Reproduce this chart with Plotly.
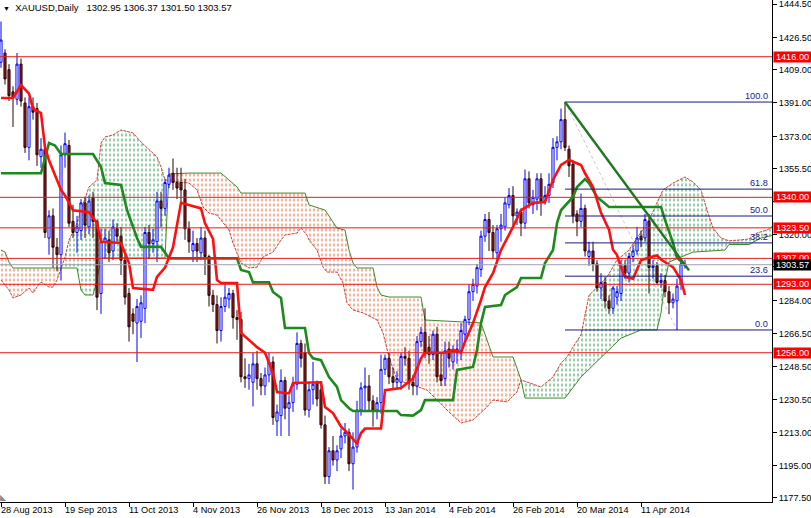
import plotly.graph_objects as go

FONT = "Liberation Sans, Arial, sans-serif"

# ---------------- data ----------------
date_idx = [0, 16, 32, 48, 64, 80, 96, 112, 128, 144, 160]
date_labels = ["28 Aug 2013", "19 Sep 2013", "11 Oct 2013", "4 Nov 2013", "26 Nov 2013",
               "18 Dec 2013", "13 Jan 2014", "4 Feb 2014", "26 Feb 2014", "20 Mar 2014", "11 Apr 2014"]

opens = [1413, 1418, 1409, 1397, 1393, 1412, 1391, 1367, 1389, 1388,
         1362, 1366, 1318, 1330, 1313, 1309, 1363, 1368, 1327, 1321,
         1322, 1337, 1324, 1340, 1327, 1288, 1316, 1317, 1311, 1323,
         1319, 1306, 1288, 1277, 1272, 1273, 1280, 1321, 1315, 1316,
         1338, 1334, 1347, 1353, 1348, 1348, 1344, 1323, 1311, 1315,
         1310, 1318, 1308, 1287, 1282, 1268, 1281, 1285, 1288, 1275,
         1274, 1243, 1242, 1240, 1250, 1242, 1238, 1244, 1251, 1219,
         1222, 1241, 1226, 1229, 1239, 1261, 1256, 1225, 1236, 1240,
         1236, 1217, 1189, 1203, 1198, 1204, 1211, 1213, 1196, 1205,
         1225, 1237, 1238, 1230, 1225, 1229, 1247, 1253, 1243, 1240,
         1240, 1254, 1253, 1240, 1238, 1262, 1267, 1259, 1255, 1266,
         1244, 1242, 1258, 1251, 1256, 1257, 1266, 1274, 1289, 1292,
         1301, 1319, 1328, 1321, 1310, 1323, 1324, 1336, 1341, 1330,
         1332, 1326, 1350, 1336, 1339, 1350, 1338, 1341, 1348, 1367,
         1370, 1382, 1366, 1358, 1331, 1327, 1334, 1308, 1311, 1304,
         1291, 1294, 1284, 1280, 1286, 1288, 1303, 1299, 1308, 1311,
         1319, 1318, 1327, 1302, 1303, 1294, 1295, 1289, 1283, 1284,
         1293, 1302.95]
highs = [1435, 1420, 1412, 1400, 1418, 1415, 1394, 1394, 1394, 1391,
         1372, 1369, 1333, 1334, 1318, 1368, 1375, 1371, 1336, 1330,
         1339, 1340, 1341, 1343, 1328, 1323, 1323, 1322, 1328, 1326,
         1324, 1309, 1291, 1280, 1285, 1287, 1324, 1325, 1323, 1343,
         1343, 1350, 1356, 1361, 1356, 1356, 1350, 1327, 1322, 1318,
         1324, 1322, 1309, 1290, 1287, 1286, 1293, 1291, 1290, 1279,
         1278, 1253, 1250, 1256, 1257, 1245, 1248, 1256, 1254, 1228,
         1247, 1243, 1233, 1243, 1267, 1263, 1261, 1240, 1251, 1241,
         1240, 1222, 1205, 1211, 1206, 1215, 1218, 1215, 1213, 1230,
         1240, 1248, 1244, 1233, 1232, 1255, 1255, 1256, 1248, 1246,
         1256, 1259, 1257, 1244, 1265, 1270, 1280, 1265, 1268, 1270,
         1256, 1262, 1262, 1260, 1263, 1272, 1276, 1293, 1296, 1304,
         1322, 1331, 1332, 1325, 1325, 1331, 1340, 1345, 1346, 1334,
         1334, 1355, 1354, 1344, 1353, 1353, 1346, 1353, 1372, 1373,
         1388, 1391.5, 1368, 1360, 1333, 1342, 1336, 1316, 1316, 1306,
         1299, 1297, 1287, 1292, 1292, 1306, 1306, 1310, 1314, 1324,
         1322, 1331, 1331, 1306, 1305, 1299, 1298, 1292, 1288, 1296,
         1307, 1306.37]
lows = [1410, 1401, 1392, 1378, 1390, 1389, 1364, 1360, 1382, 1357,
        1356, 1318, 1309, 1302, 1300, 1295, 1356, 1324, 1318, 1310,
        1317, 1318, 1320, 1318, 1279, 1277, 1307, 1305, 1306, 1316,
        1298, 1282, 1262, 1266, 1251, 1264, 1272, 1307, 1310, 1305,
        1324, 1330, 1345, 1344, 1339, 1337, 1317, 1310, 1305, 1305,
        1306, 1298, 1281, 1278, 1261, 1262, 1278, 1280, 1269, 1263,
        1240, 1237, 1236, 1227, 1236, 1233, 1233, 1240, 1217, 1211,
        1211, 1220, 1211, 1224, 1236, 1248, 1222, 1221, 1228, 1227,
        1215, 1185, 1185, 1195, 1192, 1199, 1207, 1192, 1182, 1202,
        1222, 1225, 1225, 1216, 1220, 1223, 1244, 1239, 1236, 1236,
        1236, 1249, 1236, 1233, 1233, 1259, 1253, 1250, 1252, 1240,
        1238, 1238, 1248, 1247, 1250, 1252, 1262, 1271, 1284, 1288,
        1297, 1316, 1311, 1307, 1306, 1316, 1322, 1334, 1325, 1325,
        1319, 1323, 1334, 1331, 1333, 1330, 1336, 1337, 1345, 1360,
        1366, 1365, 1351, 1326, 1319, 1324, 1308, 1303, 1300, 1289,
        1285, 1280, 1277, 1277, 1282, 1284, 1296, 1294, 1305, 1309,
        1313, 1316, 1288, 1296, 1293, 1291, 1286, 1277, 1280, 1268.3,
        1290, 1301.50]
closes = [1425, 1404, 1395, 1394, 1412, 1392, 1367, 1389, 1386, 1363,
          1366, 1321, 1330, 1313, 1309, 1363, 1369, 1326, 1321, 1324,
          1337, 1325, 1338, 1327, 1286, 1316, 1318, 1310, 1324, 1319,
          1306, 1286, 1270, 1273, 1281, 1283, 1321, 1315, 1317, 1338,
          1334, 1348, 1352, 1348, 1345, 1344, 1323, 1316, 1315, 1311,
          1318, 1308, 1287, 1282, 1268, 1281, 1286, 1288, 1275, 1274,
          1243, 1242, 1244, 1250, 1242, 1238, 1244, 1251, 1221, 1224,
          1241, 1226, 1229, 1239, 1261, 1253, 1225, 1236, 1239, 1231,
          1217, 1189, 1203, 1198, 1203, 1211, 1213, 1196, 1205, 1225,
          1237, 1238, 1230, 1225, 1229, 1247, 1253, 1243, 1240, 1242,
          1254, 1253, 1240, 1238, 1262, 1267, 1256, 1255, 1266, 1243,
          1241, 1257, 1253, 1257, 1258, 1268, 1274, 1289, 1293, 1302,
          1319, 1328, 1321, 1311, 1323, 1325, 1337, 1341, 1330, 1332,
          1326, 1350, 1337, 1340, 1350, 1338, 1341, 1347, 1367, 1370,
          1382, 1367, 1357, 1330, 1327, 1334, 1311, 1311, 1304, 1291,
          1294, 1284, 1280, 1291, 1289, 1303, 1299, 1308, 1311, 1318,
          1317, 1328, 1302, 1303, 1294, 1295, 1289, 1283, 1285, 1292,
          1304, 1303.57]

tenkan_idx = [0, 3, 5, 7, 8, 10, 11, 12, 15, 16, 18, 22, 24, 25, 30, 32, 33, 38, 39, 41,
              43, 45, 50, 51, 53, 54, 55, 59, 60, 62, 64, 66, 68, 69, 72, 73, 80, 81, 83, 85,
              86, 89, 90, 91, 95, 96, 100, 103, 105, 106, 111, 113, 115, 116, 118, 120, 121, 123, 125, 128,
              130, 133, 136, 138, 140, 142, 145, 146, 148, 150, 152, 153, 154, 155, 156, 158, 159, 160, 162, 164,
              165, 168, 170, 171]
tenkan_val = [1393.7, 1393.7, 1400.7, 1396.0, 1388.0, 1385.5, 1367.0, 1360.0, 1344.0, 1341.0,
              1333.0, 1332.0, 1326.0, 1316.0, 1315.3, 1304.5, 1291.0, 1290.0, 1297.0, 1302.0,
              1313.0, 1337.0, 1334.0, 1326.0, 1317.5, 1295.3, 1293.7, 1293.7, 1266.7, 1263.0,
              1259.0, 1256.0, 1245.0, 1234.7, 1234.0, 1239.6, 1240.0, 1226.7, 1223.4, 1216.0,
              1214.0, 1207.0, 1212.6, 1215.0, 1215.0, 1235.8, 1236.9, 1242.0, 1253.0, 1256.0,
              1256.0, 1257.5, 1256.0, 1262.0, 1272.0, 1284.5, 1291.5, 1299.0, 1311.5, 1324.0,
              1333.0, 1337.0, 1337.5, 1349.4, 1357.5, 1360.2, 1357.5, 1353.0, 1345.6, 1331.6,
              1322.5, 1311.7, 1308.8, 1302.3, 1297.0, 1296.0, 1300.7, 1306.0, 1307.5, 1308.6,
              1306.4, 1302.3, 1295.3, 1287.2]

kijun_idx = [0, 10, 12, 13.5, 15, 23, 25, 26, 30, 31.5, 34, 35, 40, 42, 59, 60, 62, 63, 67, 68,
             70, 71, 76, 77, 78, 80, 82, 84, 85, 87, 88, 99, 100, 103, 105, 106, 113, 114, 118, 119,
             120, 121, 125, 126, 129, 130, 135, 136, 138, 139, 140, 143, 144, 146, 147, 149, 152, 165, 166, 168,
             169, 171]
kijun_val = [1353.0, 1353.0, 1369.3, 1368.0, 1363.4, 1363.4, 1356.4, 1347.7, 1346.7, 1333.2,
             1318.0, 1313.2, 1313.2, 1307.0, 1307.0, 1300.7, 1299.6, 1294.0, 1294.0, 1288.8,
             1285.6, 1269.4, 1269.4, 1255.8, 1253.0, 1252.0, 1242.9, 1237.5, 1230.4, 1226.0,
             1224.5, 1224.5, 1222.3, 1222.0, 1225.0, 1230.4, 1230.4, 1246.7, 1248.3, 1257.5,
             1272.0, 1280.7, 1281.8, 1287.2, 1291.5, 1296.4, 1296.4, 1304.5, 1311.5, 1326.0,
             1333.0, 1340.2, 1345.6, 1349.9, 1347.7, 1340.2, 1334.8, 1334.8, 1327.8, 1315.4,
             1307.3, 1303.6]

span_a_idx = [0, 2, 3, 5, 7, 8, 9, 10, 12, 13, 14, 15, 16, 17, 19, 20, 22, 24, 25, 26,
              28, 30, 33, 35, 37, 39, 40, 41, 41.9, 42, 47, 49, 50.5, 52, 54, 55.5, 57, 58, 60, 62,
              64, 65.5, 68, 70, 71, 74, 75, 76.5, 77, 79, 80.5, 81.5, 84, 85.5, 86.5, 88, 90.5, 94, 95.5, 97,
              99, 103, 106.5, 111.5, 115, 118, 121.5, 123, 126.5, 129, 130, 135, 138, 140, 141.5, 143, 145, 147, 151.5, 154,
              157, 162, 165.5, 168, 171, 173, 175, 176.5, 178, 180, 182, 185, 187, 189, 191.5, 193]
span_a_val = [1295.3, 1289.9, 1285.6, 1287.2, 1291.0, 1288.3, 1291.5, 1294.2, 1291.5, 1291.5,
              1295.3, 1301.8, 1307.7, 1316.9, 1326.1, 1333.1, 1345.6, 1349.4, 1369.3, 1372.6,
              1373.7, 1376.4, 1374.8, 1369.9, 1365.6, 1361.8, 1356.4, 1349.4, 1349.2, 1349.0,
              1347.7, 1344.0, 1334.8, 1331.5, 1330.4, 1326.1, 1322.3, 1315.3, 1304.5, 1301.8,
              1302.3, 1307.7, 1310.4, 1316.9, 1319.6, 1320.7, 1323.4, 1319.6, 1316.9, 1311.5,
              1302.3, 1299.6, 1299.6, 1293.7, 1282.9, 1279.1, 1277.5, 1273.7, 1266.7, 1253.7,
              1241.3, 1238.5, 1235.8, 1225.0, 1218.0, 1219.6, 1226.7, 1230.4, 1229.4, 1234.8,
              1241.3, 1237.5, 1242.9, 1250.4, 1253.7, 1259.1, 1265.6, 1287.0, 1296.9, 1306.1,
              1311.5, 1327.7, 1344.0, 1347.7, 1351.0, 1348.3, 1344.0, 1333.1, 1323.4, 1318.0,
              1316.5, 1317.0, 1317.5, 1320.7, 1322.3, 1324.5]

span_b_idx = [0, 1, 2, 3, 15, 19, 20, 21, 23, 24, 25, 41, 41.9, 42, 47, 55, 59, 60, 76, 77,
              81, 84, 86, 87, 88, 89, 93, 94, 95, 97, 105, 106, 120, 123, 128, 130, 131, 141, 145, 150,
              155, 160, 164, 165, 166, 167, 173, 181, 182, 187, 190, 193]
span_b_val = [1311.5, 1310.4, 1305.0, 1301.8, 1301.8, 1301.8, 1289.9, 1287.2, 1287.2, 1295.3,
              1307.2, 1307.2, 1349.2, 1352.6, 1353.1, 1353.1, 1345.6, 1342.3, 1342.3, 1335.9,
              1333.1, 1323.4, 1322.3, 1311.5, 1304.5, 1301.8, 1301.8, 1291.5, 1287.2, 1286.1,
              1286.1, 1273.7, 1272.1, 1253.7, 1253.7, 1241.3, 1231.5, 1231.5, 1242.9, 1253.2,
              1263.9, 1268.3, 1268.3, 1277.5, 1294.8, 1305.0, 1310.4, 1311.5, 1314.5, 1314.5,
              1318.0, 1319.5]

cloud_bounds = [0, 15, 41.9, 130, 193]          # bar indices where span A and span B meet
cloud_kind = ["down", "up", "down", "up"]

levels = [1416.00, 1340.00, 1323.50, 1307.00, 1293.00, 1256.00]
price_ticks = [1444.50, 1426.50, 1409.00, 1391.00, 1373.00, 1355.50, 1338.00, 1320.00,
               1302.50, 1284.00, 1266.50, 1248.50, 1230.50, 1213.00, 1195.00, 1177.50]
hidden_ticks = [1338.00, 1302.50]   # covered by the level / price boxes in the reference

fib_anchor_idx = [141, 169]
fib_anchor_val = [1391.5, 1268.3]
fib_ratios = [0.0, 23.6, 38.2, 50.0, 61.8, 100.0]

trend_idx = [141, 172]
trend_val = [1391.5, 1300.5]

symbol_text = "XAUUSD,Daily"
ohlc_text = "1302.95 1306.37 1301.50 1303.57"

# ---------------- styles ----------------
C_UP_CLOUD = "#2a9846"
C_DN_CLOUD = "#f0602a"
C_SPAN_A = "#d2403a"
C_SPAN_B = "#3f8a2a"
C_TENKAN = "#ff1010"
C_KIJUN = "#1c8a1c"
C_LEVEL = "#e41b1b"
C_FIB = "#1a1a80"
X_RANGE = [-0.25, 192.75]
Y_RANGE = [1175.31, 1446.66]

fig = go.Figure()

# ---- base layer (x, y): cloud ----
a_pts = list(zip(span_a_idx, span_a_val))
b_pts = list(zip(span_b_idx, span_b_val))
for k, kind in enumerate(cloud_kind):
    s, e = cloud_bounds[k], cloud_bounds[k + 1]
    pa = [p for p in a_pts if s <= p[0] <= e]
    pb = [p for p in b_pts if s <= p[0] <= e][::-1]
    poly = pa + pb
    px = [p[0] for p in poly]
    py = [p[1] for p in poly]
    col = C_UP_CLOUD if kind == "up" else C_DN_CLOUD
    fig.add_trace(go.Scatter(x=px, y=py, mode="lines", line=dict(width=0), fill="toself",
                             fillcolor="rgba(0,0,0,0)",
                             fillpattern=dict(shape="|", fgcolor=col, bgcolor="rgba(0,0,0,0)",
                                              size=4, solidity=0.25, fgopacity=0.95),
                             hoverinfo="skip"))
    fig.add_trace(go.Scatter(x=px, y=py, mode="lines", line=dict(width=0), fill="toself",
                             fillcolor="rgba(0,0,0,0)",
                             fillpattern=dict(shape="-", fgcolor="white", bgcolor="rgba(0,0,0,0)",
                                              size=5, solidity=0.42, fgopacity=1),
                             hoverinfo="skip"))

fig.add_trace(go.Scatter(x=span_a_idx, y=span_a_val, mode="lines",
                         line=dict(color=C_SPAN_A, width=1, dash="3px,1px"), hoverinfo="skip"))
fig.add_trace(go.Scatter(x=span_b_idx, y=span_b_val, mode="lines",
                         line=dict(color=C_SPAN_B, width=1), hoverinfo="skip"))
fig.add_trace(go.Scatter(x=fib_anchor_idx, y=fib_anchor_val, mode="lines",
                         line=dict(color="#c8c8c8", width=1, dash="dot"), hoverinfo="skip"))

# ---- overlay layer (x2, y2): candles, indicator lines, drawn objects ----
bars = list(range(len(closes)))
fig.add_trace(go.Candlestick(x=bars, open=opens, high=highs, low=lows, close=closes,
                             increasing=dict(line=dict(color="#0000ff", width=1), fillcolor="white"),
                             decreasing=dict(line=dict(color="#2a0606", width=1), fillcolor="#8e1c1c"),
                             whiskerwidth=0, hoverinfo="skip", xaxis="x2", yaxis="y2"))
fig.add_trace(go.Scatter(x=kijun_idx, y=kijun_val, mode="lines", xaxis="x2", yaxis="y2",
                         line=dict(color=C_KIJUN, width=2.6), hoverinfo="skip"))
fig.add_trace(go.Scatter(x=tenkan_idx, y=tenkan_val, mode="lines", xaxis="x2", yaxis="y2",
                         line=dict(color=C_TENKAN, width=2.6), hoverinfo="skip"))

hi, lo = fib_anchor_val
x_end = 193
annotations = []
for r in fib_ratios:
    lv = lo + (hi - lo) * r / 100.0
    fig.add_trace(go.Scatter(x=[fib_anchor_idx[0], x_end], y=[lv, lv], mode="lines",
                             xaxis="x2", yaxis="y2",
                             line=dict(color=C_FIB, width=1), hoverinfo="skip"))
    annotations.append(dict(x=1, xref="paper", y=lv, yref="y", xanchor="right", yanchor="bottom",
                            xshift=-2, yshift=-1, text=f"{r:.1f}", showarrow=False,
                            font=dict(family=FONT, size=9.2, color=C_FIB)))

fig.add_trace(go.Scatter(x=trend_idx, y=trend_val, mode="lines", xaxis="x2", yaxis="y2",
                         line=dict(color="#1e781e", width=2.4), hoverinfo="skip"))

shapes = []
for lv in levels:
    shapes.append(dict(type="line", xref="paper", x0=0, x1=1, yref="y", y0=lv, y1=lv,
                       line=dict(color=C_LEVEL, width=1)))
    annotations.append(dict(x=1, xref="paper", y=lv, yref="y", xanchor="left", yanchor="middle",
                            xshift=1, text=f"{lv:.2f}", showarrow=False, bgcolor="#ff0000",
                            width=37, height=10, borderpad=0, align="center",
                            font=dict(family=FONT, size=9.2, color="white")))
last = closes[-1]
shapes.append(dict(type="line", xref="paper", x0=0, x1=1, yref="y", y0=last, y1=last,
                   line=dict(color="#a0a0a8", width=1)))
annotations.append(dict(x=1, xref="paper", y=last, yref="y", xanchor="left", yanchor="middle",
                        xshift=1, text=f"{last:.2f}", showarrow=False, bgcolor="black",
                        width=37, height=10, borderpad=0, align="center",
                        font=dict(family=FONT, size=9.2, color="white")))

for i, lab in zip(date_idx, date_labels):
    annotations.append(dict(x=i, xref="x", y=0, yref="paper", xanchor="left", yanchor="top",
                            xshift=-2, yshift=-1, text=lab, showarrow=False,
                            font=dict(family=FONT, size=9.2, color="black")))

annotations.append(dict(x=0, xref="paper", y=1, yref="paper", xanchor="left", yanchor="top",
                        xshift=1, yshift=0,
                        text="<span style='font-size:7px'>▼</span>\u00a0\u00a0" + symbol_text
                             + "\u00a0\u00a0\u00a0" + ohlc_text,
                        showarrow=False, font=dict(family=FONT, size=9.5, color="black")))
# chart-shift marker in the bottom-left corner
annotations.append(dict(x=0, xref="paper", y=0, yref="paper", xanchor="left", yanchor="bottom",
                        xshift=-2, yshift=-2, text="◣", showarrow=False,
                        font=dict(family=FONT, size=8, color="#8a8a8a")))

fig.update_layout(width=811, height=518, margin=dict(l=0, r=39, t=0, b=16),
                  paper_bgcolor="white", plot_bgcolor="white", showlegend=False, boxgap=0.25,
                  font=dict(family=FONT, size=9.2, color="black"),
                  shapes=shapes, annotations=annotations,
                  xaxis=dict(range=X_RANGE, showgrid=False, zeroline=False, showline=True,
                             linecolor="black", linewidth=1, ticks="outside", ticklen=4,
                             tickcolor="black", tickvals=date_idx, showticklabels=False,
                             rangeslider=dict(visible=False)),
                  yaxis=dict(range=Y_RANGE, side="right", showgrid=False, zeroline=False,
                             showline=True, linecolor="black", linewidth=1, ticks="outside",
                             ticklen=4, tickcolor="black", tickvals=price_ticks,
                             ticklabeloverflow="allow",
                             ticktext=["" if v in hidden_ticks else f"{v:.2f}" for v in price_ticks],
                             tickfont=dict(family=FONT, size=9.2, color="black")),
                  xaxis2=dict(range=X_RANGE, overlaying="x", visible=False,
                              rangeslider=dict(visible=False)),
                  yaxis2=dict(range=Y_RANGE, overlaying="y", visible=False))

fig.write_html("out.html", config={"displayModeBar": False, "staticPlot": True},
               post_script="document.body.style.margin='0';document.body.style.padding='0';")
